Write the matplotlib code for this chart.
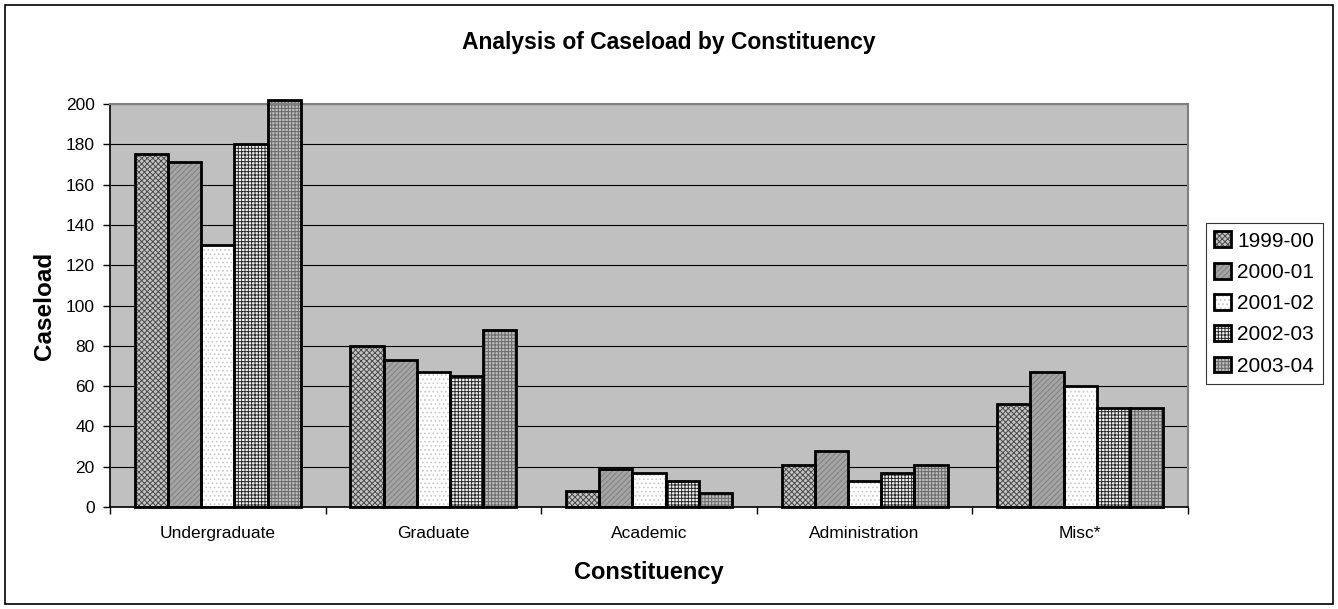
import matplotlib
matplotlib.use('Agg')
import matplotlib.pyplot as plt
import matplotlib.patches as mpatches
import numpy as np

categories = ['Undergraduate', 'Graduate', 'Academic', 'Administration', 'Misc*']
years = ['1999-00', '2000-01', '2001-02', '2002-03', '2003-04']
v1999 = [175, 80, 8, 21, 51]
v2000 = [171, 73, 19, 28, 67]
v2001 = [130, 67, 17, 13, 60]
v2002 = [180, 65, 13, 17, 49]
v2003 = [202, 88, 7, 21, 49]
series = [v1999, v2000, v2001, v2002, v2003]
yticks = [0, 20, 40, 60, 80, 100, 120, 140, 160, 180, 200]

# (facecolor, hatch, hatch colour) imitating the old Excel fill patterns
styles = [('#c4c4c4', 'xxxxxx', '#4a4a4a'),
          ('#a4a4a4', '//////', '#808080'),
          ('#ffffff', '....', '#c8c8c8'),
          ('#f4f4f4', '+++++', '#2a2a2a'),
          ('#bcbcbc', '+++++', '#6a6a6a')]

plt.rcParams['font.family'] = ['Liberation Sans', 'DejaVu Sans']
plt.rcParams['hatch.linewidth'] = 0.7

fig = plt.figure(figsize=(13.38, 6.09), dpi=100)
fig.patch.set_facecolor('white')
fig.patches.append(mpatches.Rectangle((5 / 1338, 5 / 609), 1328 / 1338, 599 / 609,
                                      transform=fig.transFigure, fill=False,
                                      edgecolor='black', linewidth=1.2))

ax = fig.add_axes([110 / 1338, 1 - 507 / 609, 1078 / 1338, 403 / 609])
ax.set_facecolor('#c0c0c0')

x = np.arange(len(categories))
w = 1 / 6.5
handles = []
for i, (vals, (fc, h, hc)) in enumerate(zip(series, styles)):
    pos = x + (i - 2) * w
    b1 = ax.bar(pos, vals, w, color=fc, hatch=h, edgecolor=hc, linewidth=0,
                zorder=2, clip_on=False)
    b2 = ax.bar(pos, vals, w, fill=False, edgecolor='black', linewidth=2.0,
                zorder=3, clip_on=False)
    handles.append((b1[0], b2[0]))

ax.set_xlim(-0.5, len(categories) - 0.5)
ax.set_ylim(0, 200)
ax.set_yticks(yticks)
ax.yaxis.grid(True, color='black', linewidth=0.8)
ax.set_axisbelow(True)

ax.set_xticks(x)
ax.set_xticklabels(categories, fontsize=12.5)
ax.set_xticks(np.arange(len(categories) + 1) - 0.5, minor=True)
ax.tick_params(axis='x', which='major', length=0, pad=14)
ax.tick_params(axis='x', which='minor', length=5, direction='out', width=1)
ax.tick_params(axis='y', labelsize=12.5, length=5, direction='out', width=1, pad=6)

for s in ['top', 'right']:
    ax.spines[s].set_color('#808080')
    ax.spines[s].set_linewidth(1.5)
ax.spines['left'].set_color('black')
ax.spines['bottom'].set_color('black')
ax.spines['left'].set_linewidth(1.2)
ax.spines['bottom'].set_linewidth(1.2)

ax.set_ylabel('Caseload', fontsize=17.5, fontweight='bold', labelpad=7)
ax.set_xlabel('Constituency', fontsize=17, fontweight='bold', labelpad=14)
fig.text(0.5, 1 - 42 / 609, 'Analysis of Caseload by Constituency', ha='center', va='center',
         fontsize=16.5, fontweight='bold')

leg = fig.legend(handles, years, loc='upper left',
                 bbox_to_anchor=(1206 / 1338, 1 - 223 / 609),
                 fontsize=15, frameon=True, fancybox=False, edgecolor='black',
                 handlelength=0.8, handleheight=0.8, handletextpad=0.3,
                 labelspacing=0.58, borderpad=0.4, borderaxespad=0)
leg.get_frame().set_linewidth(0.8)

fig.savefig('out.png', dpi=100)
